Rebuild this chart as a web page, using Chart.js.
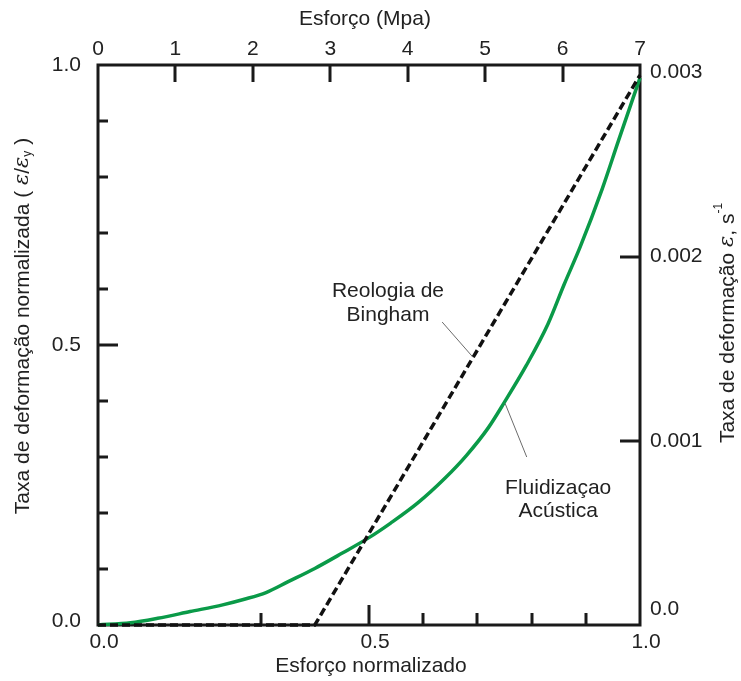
<!DOCTYPE html>
<html>
<head>
<meta charset="utf-8">
<script src="https://cdn.jsdelivr.net/npm/chart.js@4.4.1/dist/chart.umd.min.js"></script>
<style>
  html, body { margin: 0; padding: 0; background: #fff; }
  #wrap { width: 741px; height: 681px; }
</style>
</head>
<body>
<div id="wrap"><canvas id="chart" width="741" height="681"></canvas></div>
<script>
// normalized stress (x) vs normalized strain rate (y)
var acousticX = [0, 0.06, 0.11, 0.17, 0.23, 0.27, 0.31, 0.35, 0.40, 0.45, 0.50, 0.54, 0.59, 0.64, 0.68, 0.72, 0.75, 0.79, 0.83, 0.86, 0.89, 0.93, 0.96, 1.0];
var acousticY = [0, 0.004, 0.012, 0.024, 0.036, 0.046, 0.058, 0.077, 0.101, 0.128, 0.156, 0.182, 0.218, 0.262, 0.303, 0.352, 0.398, 0.463, 0.537, 0.608, 0.676, 0.778, 0.864, 0.977];
var binghamX = [0, 0.40, 1.0];
var binghamY = [0, 0, 0.982];

// axis labels and tick marks
var bottomLabels = [0, 0.5, 1];
var topLabels = [0, 1, 2, 3, 4, 5, 6, 7];
var leftLabels = [0, 0.5, 1];
var rightLabels = [0, 0.001, 0.002, 0.003];
var bottomMarks = [0.3, 0.5, 0.6, 0.7, 0.8, 0.9];
var topMarks = [1, 2, 3, 4, 5, 6];
var leftMarks = [0.1, 0.2, 0.3, 0.4, 0.5, 0.6, 0.7, 0.8, 0.9];
var rightMarks = [0.001, 0.002];

// annotation texts and leader lines (data coords)
var notes = [
    {lines: ['Reologia de', 'Bingham'], x: 0.535, y: [0.596, 0.553], from: [0.635, 0.541], to: [0.692, 0.478]},
    {lines: ['Fluidizaçao', 'Acústica'], x: 0.849, y: [0.245, 0.203], from: [0.791, 0.300], to: [0.751, 0.396]}
];

var FONT = '"Liberation Sans", Arial, sans-serif';
var TEXT = '#222222';

function toPoints(xs, ys) {
    return xs.map(function (x, i) {
        return {x: x, y: ys[i]};
    });
}

function fixTicks(values) {
    return function (scale) {
        scale.ticks = values.map(function (v) {
            return {value: v};
        });
    };
}

function drawRich(ctx, parts, cx, cy, angle) {
    var total = 0;
    parts.forEach(function (p) {
        ctx.font = p.font;
        p.w = ctx.measureText(p.text).width;
        total += p.w;
    });
    ctx.save();
    ctx.translate(cx, cy);
    ctx.rotate(angle);
    ctx.textBaseline = 'middle';
    ctx.textAlign = 'left';
    var x = -total / 2;
    parts.forEach(function (p) {
        ctx.font = p.font;
        ctx.fillText(p.text, x, p.dy || 0);
        x += p.w;
    });
    ctx.restore();
}

var decorations = {
    id: 'decorations',
    beforeDraw: function (chart) {
        // the reference lifts the bottom labels of both y axes a little
        var items = chart.scales.y2.getLabelItems();
        if (items.length && !items[0].lifted) {
            items[0].options.translation[1] -= 16;
            items[0].lifted = true;
        }
        items = chart.scales.y.getLabelItems();
        if (items.length && !items[0].lifted) {
            items[0].options.translation[1] -= 4;
            items[0].lifted = true;
        }
    },
    beforeDatasetsDraw: function (chart) {
        var ctx = chart.ctx, a = chart.chartArea, s = chart.scales;
        ctx.save();
        ctx.strokeStyle = '#1a1a1a';
        ctx.lineWidth = 3;
        ctx.beginPath();
        leftMarks.forEach(function (v) {
            var y = Math.round(s.y.getPixelForValue(v));
            ctx.moveTo(a.left, y);
            ctx.lineTo(a.left + (v === 0.5 ? 20 : 10), y);
        });
        bottomMarks.forEach(function (v) {
            var x = Math.round(s.x.getPixelForValue(v));
            ctx.moveTo(x, a.bottom);
            ctx.lineTo(x, a.bottom - (v === 0.5 ? 20 : 12));
        });
        topMarks.forEach(function (v) {
            var x = Math.round(s.x2.getPixelForValue(v));
            ctx.moveTo(x, a.top);
            ctx.lineTo(x, a.top + 17);
        });
        rightMarks.forEach(function (v) {
            var y = Math.round(s.y2.getPixelForValue(v));
            ctx.moveTo(a.right, y);
            ctx.lineTo(a.right - 20, y);
        });
        ctx.stroke();
        ctx.lineJoin = 'miter';
        ctx.strokeRect(a.left, a.top, a.right - a.left, a.bottom - a.top);
        ctx.restore();
    },
    afterDraw: function (chart) {
        var ctx = chart.ctx, a = chart.chartArea, s = chart.scales;
        var f = '21px ' + FONT;
        var fi = 'italic 21px "DejaVu Serif", serif';
        var fs = '12px ' + FONT;
        ctx.save();
        ctx.fillStyle = TEXT;

        // axis titles
        drawRich(ctx, [{text: 'Esforço (Mpa)', font: f}], (a.left + a.right) / 2 - 4, 19, 0);
        drawRich(ctx, [{text: 'Esforço normalizado', font: f}], (a.left + a.right) / 2 + 2, 666, 0);
        drawRich(ctx, [
            {text: 'Taxa de deformação normalizada ( ', font: f},
            {text: 'ε', font: fi},
            {text: '/', font: f},
            {text: 'ε', font: fi},
            {text: 'y', font: fs, dy: 5},
            {text: ' )', font: f}
        ], 23, 326, -Math.PI / 2);
        drawRich(ctx, [
            {text: 'Taxa de deformação ', font: f},
            {text: 'ε', font: fi},
            {text: ', s', font: f},
            {text: '-1', font: fs, dy: -9}
        ], 728, 323, -Math.PI / 2);

        // annotations
        ctx.textAlign = 'center';
        ctx.textBaseline = 'middle';
        ctx.font = f;
        notes.forEach(function (n) {
            n.lines.forEach(function (t, i) {
                ctx.fillText(t, s.x.getPixelForValue(n.x), s.y.getPixelForValue(n.y[i]));
            });
            ctx.beginPath();
            ctx.strokeStyle = '#6b6b6b';
            ctx.lineWidth = 1;
            ctx.moveTo(s.x.getPixelForValue(n.from[0]), s.y.getPixelForValue(n.from[1]));
            ctx.lineTo(s.x.getPixelForValue(n.to[0]), s.y.getPixelForValue(n.to[1]));
            ctx.stroke();
        });
        ctx.restore();
    }
};

var tickFont = {family: FONT, size: 21};

new Chart(document.getElementById('chart'), {
    type: 'scatter',
    data: {
        datasets: [{
            label: 'Reologia de Bingham',
            data: toPoints(binghamX, binghamY),
            showLine: true,
            borderColor: '#111111',
            borderWidth: 3.5,
            borderDash: [8, 4],
            pointRadius: 0,
            clip: false,
            xAxisID: 'x',
            yAxisID: 'y'
        }, {
            label: 'Fluidizaçao Acústica',
            data: toPoints(acousticX, acousticY),
            showLine: true,
            borderColor: '#0a9a48',
            borderWidth: 3.5,
            cubicInterpolationMode: 'monotone',
            pointRadius: 0,
            clip: false,
            xAxisID: 'x',
            yAxisID: 'y'
        }]
    },
    options: {
        responsive: false,
        animation: false,
        layout: {padding: 0},
        plugins: {
            legend: {display: false},
            tooltip: {enabled: false}
        },
        scales: {
            x: {
                type: 'linear',
                position: 'bottom',
                min: 0,
                max: 1,
                afterBuildTicks: fixTicks(bottomLabels),
                afterFit: function (scale) { scale.height = 56; },
                grid: {display: false, drawTicks: false},
                border: {display: false},
                ticks: {
                    font: tickFont,
                    color: TEXT,
                    padding: 5,
                    labelOffset: 6,
                    maxRotation: 0,
                    callback: function (v) { return v.toFixed(1); }
                }
            },
            x2: {
                type: 'linear',
                position: 'top',
                min: 0,
                max: 7,
                afterBuildTicks: fixTicks(topLabels),
                afterFit: function (scale) { scale.height = 65; },
                grid: {display: false, drawTicks: false},
                border: {display: false},
                ticks: {
                    font: tickFont,
                    color: TEXT,
                    padding: 3,
                    maxRotation: 0,
                    callback: function (v) { return String(v); }
                }
            },
            y: {
                type: 'linear',
                position: 'left',
                min: 0,
                max: 1,
                afterBuildTicks: fixTicks(leftLabels),
                afterFit: function (scale) { scale.width = 98; },
                grid: {display: false, drawTicks: false},
                border: {display: false},
                ticks: {
                    font: tickFont,
                    color: TEXT,
                    padding: 17,
                    callback: function (v) { return v.toFixed(1); }
                }
            },
            y2: {
                type: 'linear',
                position: 'right',
                min: 0,
                max: 0.00304,
                afterBuildTicks: fixTicks(rightLabels),
                afterFit: function (scale) { scale.width = 101; },
                grid: {display: false, drawTicks: false},
                border: {display: false},
                ticks: {
                    font: tickFont,
                    color: TEXT,
                    padding: 10,
                    callback: function (v) { return v === 0 ? '0.0' : v.toFixed(3); }
                }
            }
        }
    },
    plugins: [decorations]
});
</script>
</body>
</html>
